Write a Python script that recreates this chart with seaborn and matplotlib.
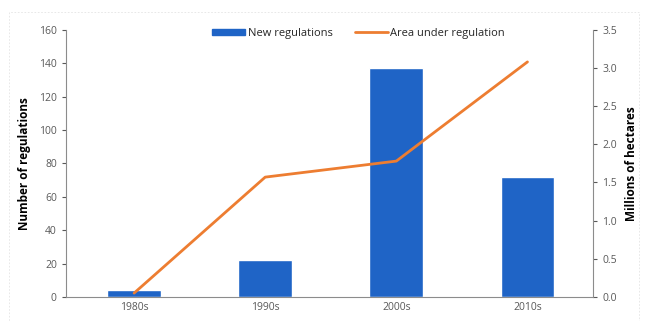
import pandas as pd
import seaborn as sns
import matplotlib.pyplot as plt
from matplotlib.lines import Line2D
from matplotlib.patches import Patch, Rectangle

decades = ['1980s', '1990s', '2000s', '2010s']
new_regulations = [4, 22, 137, 72]
area_mha = [0.05, 1.57, 1.78, 3.08]

df = pd.DataFrame({'decade': decades, 'new': new_regulations, 'area': area_mha})

sns.set_style('white')
plt.rcParams['font.family'] = ['Open Sans', 'DejaVu Sans']
grey = '#595959'
blue = '#1F64C6'
orange = '#ED7D31'

fig = plt.figure(figsize=(6.46, 3.21), dpi=100)
# faint frame round the chart, as in the scanned original
fig.patches.append(Rectangle((9 / 646, -0.05), 630 / 646, 1 - 12 / 321 + 0.05,
                             transform=fig.transFigure, fill=False,
                             edgecolor='#e4e4e4', lw=0.6, ls=(0, (2, 2))))
ax = fig.add_axes([0.102, 0.075, 0.816, 0.832])

sns.barplot(data=df, x='decade', y='new', color=blue, width=0.41,
            saturation=1, ax=ax)
ax.set_ylim(0, 160)
ax.set_yticks(range(0, 161, 20))
ax.set_xlabel('')
ax.set_ylabel('Number of regulations', fontsize=8.5, fontweight='bold',
              color='black', labelpad=6)

ax2 = ax.twinx()
sns.lineplot(data=df, x='decade', y='area', color=orange, linewidth=2, ax=ax2)
ax2.set_ylim(0, 3.5)
ax2.set_yticks([i * 0.5 for i in range(8)])
ax2.set_yticklabels([f'{i * 0.5:.1f}' for i in range(8)])
ax2.set_ylabel('Millions of hectares', fontsize=8.5, fontweight='bold',
               color='black', labelpad=6)
ax.set_xlim(-0.52, 3.5)

for a in (ax, ax2):
    for s in a.spines.values():
        s.set_visible(False)
    a.tick_params(labelsize=7.5, colors=grey, length=3, width=0.8)
    a.tick_params(axis='x', length=0)
ax.spines['left'].set_visible(True)
ax.spines['bottom'].set_visible(True)
ax2.spines['right'].set_visible(True)
for s in (ax.spines['left'], ax.spines['bottom'], ax2.spines['right']):
    s.set_color('#8c8c8c')
    s.set_linewidth(0.8)
ax.tick_params(axis='y', left=True, direction='out')
ax2.tick_params(axis='y', right=True, direction='out')
for lab in ax.get_xticklabels() + ax.get_yticklabels() + ax2.get_yticklabels():
    lab.set_color(grey)

handles = [Patch(color=blue), Line2D([0], [0], color=orange, lw=2)]
ax.legend(handles, ['New regulations', 'Area under regulation'], ncol=2,
          loc='upper center', bbox_to_anchor=(0.555, 1.045), frameon=False,
          fontsize=8, handlelength=3.0, handleheight=0.55,
          columnspacing=2.0, handletextpad=0.2)

fig.savefig('out.png', dpi=100)
